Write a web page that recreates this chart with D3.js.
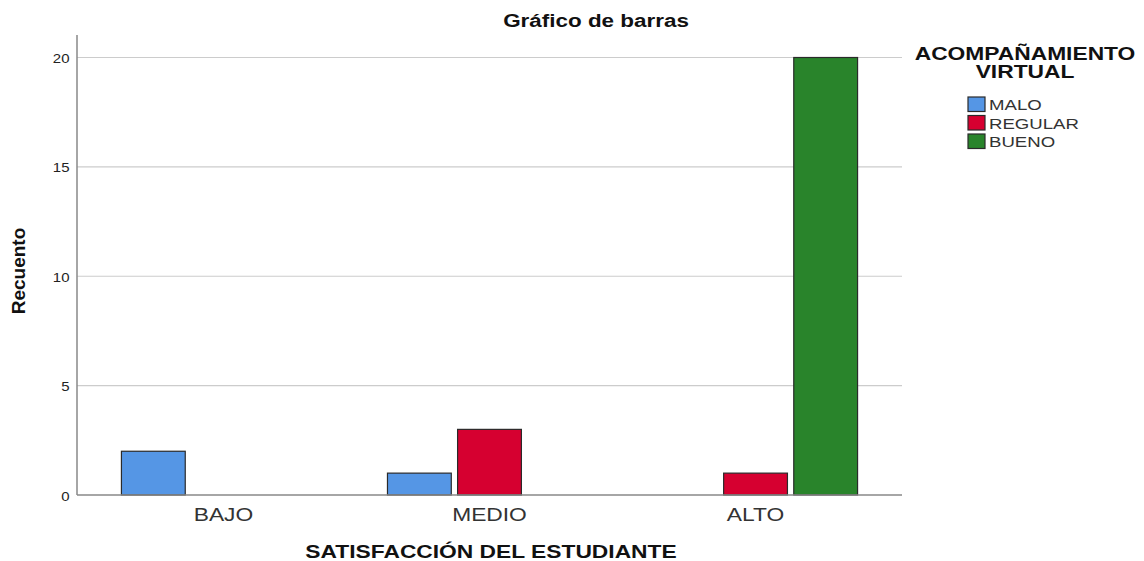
<!DOCTYPE html>
<html><head><meta charset="utf-8">
<script src="https://cdn.jsdelivr.net/npm/d3@7"></script>
<style>body{margin:0;background:#fff}svg{font-family:"Liberation Sans",Arial,sans-serif}</style>
</head><body><svg id="c" width="1144" height="561"></svg>
<script>
const categories = ["BAJO", "MEDIO", "ALTO"];
const seriesNames = ["MALO", "REGULAR", "BUENO"];
const seriesColors = ["#5596e5", "#d60030", "#29842b"];
const malo = [2, 1, 0];
const regular = [0, 3, 1];
const bueno = [0, 0, 20];
const yTicks = [0, 5, 10, 15, 20];

const values = [malo, regular, bueno];
const svg = d3.select("#c");
const L = 77, R = 902, T = 35, B = 495;
const SX = 1.2;
const y = d3.scaleLinear().domain([0, 20]).range([B, 57.5]);
const x0 = d3.scaleBand().domain(categories).range([L, R]).paddingOuter(0.167).paddingInner(0.233);
const x1 = d3.scaleBand().domain(seriesNames).range([0, x0.bandwidth()]).paddingInner(0.09);

function txt(g, x, yy, s, size, opts = {}) {
  return g.append("text")
    .attr("transform", `translate(${x},${yy}) scale(${opts.sx || SX},1)` + (opts.rot ? ` rotate(${opts.rot})` : ""))
    .attr("text-anchor", opts.anchor || "middle")
    .attr("font-size", size)
    .attr("font-weight", opts.bold ? "bold" : "normal")
    .attr("fill", opts.fill || "#222")
    .text(s);
}

// gridlines
svg.append("g").selectAll("line").data(yTicks.filter(d => d > 0)).join("line")
  .attr("x1", L).attr("x2", R).attr("y1", d => y(d)).attr("y2", d => y(d))
  .attr("stroke", "#cccccc").attr("stroke-width", 1.2);

// bars
const data = [];
categories.forEach((c, i) => seriesNames.forEach((s, j) => {
  if (values[j][i] > 0) data.push({c, s, v: values[j][i], color: seriesColors[j]});
}));
svg.append("g").selectAll("rect").data(data).join("rect")
  .attr("x", d => x0(d.c) + x1(d.s)).attr("width", x1.bandwidth())
  .attr("y", d => y(d.v)).attr("height", d => y(0) - y(d.v))
  .attr("fill", d => d.color).attr("stroke", "#2a2a2a").attr("stroke-width", 1.2);

// axes lines
svg.append("line").attr("x1", L).attr("x2", L).attr("y1", T).attr("y2", B).attr("stroke", "#888").attr("stroke-width", 1.5);
svg.append("line").attr("x1", L).attr("x2", R).attr("y1", B).attr("y2", B).attr("stroke", "#888").attr("stroke-width", 1.5);

// y tick labels
const gy = svg.append("g");
yTicks.forEach(d => txt(gy, 69.5, y(d) + 5.5, d, 12.5, {anchor: "end"}));

// x labels
const gx = svg.append("g");
categories.forEach(c => txt(gx, x0(c) + x0.bandwidth() / 2, 521, c, 19, {fill: "#333"}));

// titles
txt(svg, 596, 26.5, "Gráfico de barras", 18.7, {bold: true, fill: "#111"});
txt(svg, 491, 558, "SATISFACCIÓN DEL ESTUDIANTE", 19, {bold: true, fill: "#111"});
txt(svg, 25, 271, "Recuento", 19, {bold: true, fill: "#111", rot: -90, sx: 1.0});

// legend
txt(svg, 1025, 60, "ACOMPAÑAMIENTO", 19, {bold: true, fill: "#111"});
txt(svg, 1025, 78, "VIRTUAL", 19, {bold: true, fill: "#111"});
const lg = svg.append("g").selectAll("g").data(seriesNames).join("g")
  .attr("transform", (d, i) => `translate(968,${97 + i * 18.5})`);
lg.append("rect").attr("width", 17).attr("height", 14.5)
  .attr("fill", (d, i) => seriesColors[i]).attr("stroke", "#2a2a2a").attr("stroke-width", 1.2);
lg.each(function(d) { txt(d3.select(this), 21, 13, d, 15.5, {anchor: "start", fill: "#333"}); });
</script></body></html>
